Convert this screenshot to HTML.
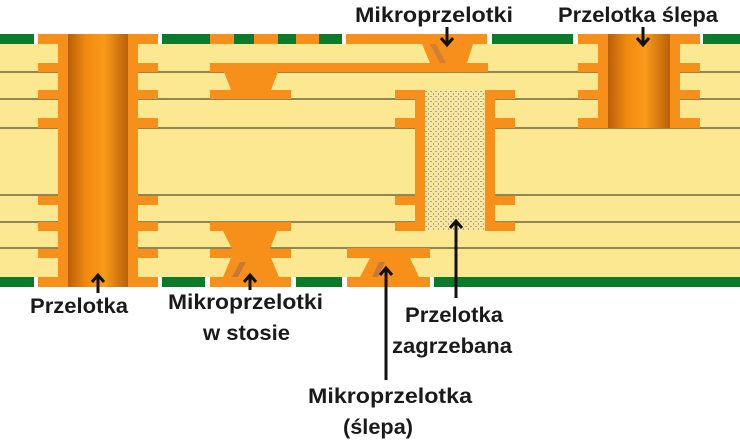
<!DOCTYPE html>
<html><head><meta charset="utf-8"><style>
html,body{margin:0;padding:0;background:#fff}
svg{display:block}
text{font-family:"Liberation Sans",Arial,sans-serif;font-weight:bold;font-size:21px;fill:#1a1a1a}
</style></head><body>
<svg width="740" height="442" viewBox="0 0 740 442" xmlns="http://www.w3.org/2000/svg">
<defs>
<linearGradient id="bar" x1="0" x2="1" y1="0" y2="0">
<stop offset="0" stop-color="#b85f08"/><stop offset="0.3" stop-color="#f08a10"/><stop offset="0.6" stop-color="#fb9a1a"/><stop offset="1" stop-color="#b86008"/>
</linearGradient>
<pattern id="dots" width="5" height="5" patternUnits="userSpaceOnUse">
<rect width="5" height="5" fill="#f9e6a0"/>
<circle cx="1" cy="1.5" r="0.55" fill="#444"/><circle cx="3.5" cy="4" r="0.55" fill="#444"/>
</pattern>
</defs>
<rect x="0" y="44" width="740" height="233" fill="#fce890"/>
<g stroke="#222" stroke-width="1">
<line x1="0" y1="72" x2="740" y2="72"/><line x1="0" y1="99" x2="740" y2="99"/>
<line x1="0" y1="128" x2="740" y2="128"/><line x1="0" y1="195" x2="740" y2="195"/>
<line x1="0" y1="222" x2="740" y2="222"/><line x1="0" y1="248" x2="740" y2="248"/>
</g>
<g fill="#0b7a2a">
<rect x="0" y="34" width="34" height="10"/><rect x="162" y="34" width="180" height="10"/>
<rect x="492" y="34" width="81" height="10"/><rect x="703" y="34" width="37" height="10"/>
<rect x="0" y="277" width="34" height="10"/><rect x="162" y="277" width="43" height="10"/>
<rect x="296" y="277" width="46" height="10"/><rect x="434" y="277" width="306" height="10"/>
</g>
<g fill="#f7901a">
<rect x="210" y="34" width="24" height="10"/><rect x="254" y="34" width="24" height="10"/><rect x="296" y="34" width="23" height="10"/>
<rect x="38" y="34" width="120" height="10"/><rect x="38" y="277" width="120" height="10"/>
<rect x="58" y="34" width="80" height="253"/>
<rect x="38" y="63" width="120" height="9"/><rect x="38" y="90" width="120" height="9"/><rect x="38" y="118" width="120" height="10"/>
<rect x="38" y="196" width="120" height="9"/><rect x="38" y="222" width="120" height="9"/><rect x="38" y="249" width="120" height="9"/>
<rect x="210" y="63" width="278" height="9"/>
<polygon points="224,72 278,72 271,90 231,90"/>
<rect x="210" y="90" width="81" height="9"/>
<rect x="210" y="222" width="81" height="9"/>
<polygon points="223,231 277,231 270,249 232,249"/>
<rect x="210" y="249" width="81" height="9"/>
<polygon points="231,258 271,258 279,277 223,277"/>
<rect x="210" y="277" width="81" height="10"/>
<rect x="346" y="34" width="141" height="10"/>
<polygon points="422,44 473,44 467,63 430,63"/>
<rect x="347" y="248" width="83" height="10"/>
<polygon points="370,258 410,258 419,277 360,277"/>
<rect x="347" y="277" width="83" height="10"/>
<rect x="578" y="34" width="122" height="10"/>
<rect x="598" y="34" width="82" height="94"/>
<rect x="578" y="63" width="122" height="9"/><rect x="578" y="90" width="122" height="9"/><rect x="578" y="118" width="122" height="10"/>
<rect x="415" y="90" width="80" height="141"/>
<rect x="395" y="90" width="120" height="9"/><rect x="395" y="118" width="120" height="10"/>
<rect x="395" y="196" width="120" height="9"/><rect x="395" y="222" width="120" height="9"/>
</g>
<rect x="68" y="34" width="60" height="253" fill="url(#bar)"/>
<rect x="608" y="34" width="62" height="94" fill="url(#bar)"/>
<rect x="425" y="90" width="60" height="141" fill="url(#dots)"/>
<polygon points="232,277 240,262 246,262 238,277" fill="#c57a3c"/>
<polygon points="430,44 436,44 446,63 440,63" fill="#c57a3c" opacity="0.8"/>
<polygon points="372,277 379,262 385,262 378,277" fill="#c57a3c"/>
<g stroke="#111" stroke-width="3" fill="none">
<line x1="447" y1="27" x2="447" y2="44"/><polyline points="441,38 447,45 453,38"/>
<line x1="643" y1="27" x2="643" y2="44"/><polyline points="637,38 643,45 649,38"/>
<line x1="98" y1="276" x2="98" y2="293"/><polyline points="92,282 98,275 104,282"/>
<line x1="250" y1="276" x2="250" y2="290"/><polyline points="244,282 250,275 256,282"/>
<line x1="386" y1="268" x2="386" y2="380"/><polyline points="380,275 386,268 392,275"/>
<line x1="456" y1="221" x2="456" y2="298"/><polyline points="450,228 456,221 462,228"/>
</g>
<text x="355" y="22" textLength="158" lengthAdjust="spacingAndGlyphs">Mikroprzelotki</text>
<text x="558" y="22" textLength="160" lengthAdjust="spacingAndGlyphs">Przelotka ślepa</text>
<text x="30" y="313" textLength="98" lengthAdjust="spacingAndGlyphs">Przelotka</text>
<text x="168" y="309" textLength="155" lengthAdjust="spacingAndGlyphs">Mikroprzelotki</text>
<text x="203" y="340" textLength="87" lengthAdjust="spacingAndGlyphs">w stosie</text>
<text x="405" y="322" textLength="98" lengthAdjust="spacingAndGlyphs">Przelotka</text>
<text x="392" y="353" textLength="120" lengthAdjust="spacingAndGlyphs">zagrzebana</text>
<text x="308" y="403" textLength="164" lengthAdjust="spacingAndGlyphs">Mikroprzelotka</text>
<text x="343" y="434" textLength="70" lengthAdjust="spacingAndGlyphs">(ślepa)</text>
</svg>
</body></html>
